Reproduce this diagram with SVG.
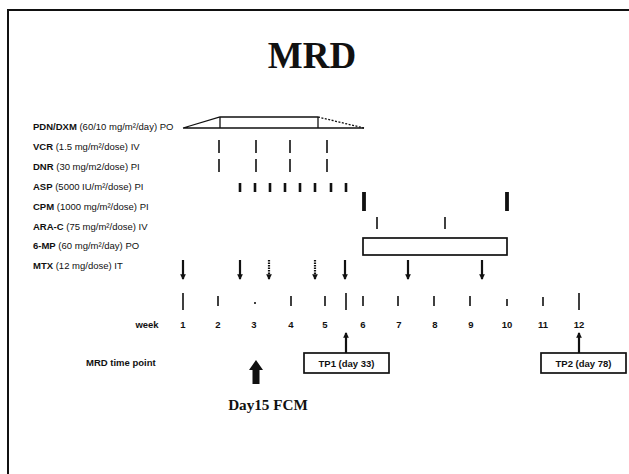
<svg xmlns="http://www.w3.org/2000/svg" width="629" height="474" viewBox="0 0 629 474">
<style>
.lab{font-family:"Liberation Sans",Arial,sans-serif;font-size:9.5px;fill:#111}
.b{font-weight:bold}
.num{font-family:"Liberation Sans",Arial,sans-serif;font-size:9.5px;font-weight:bold;fill:#111;text-anchor:middle}
.ser{font-family:"Liberation Serif","Times New Roman",serif;font-weight:bold;fill:#111}
.tk{stroke:#111;stroke-width:1.6;fill:none}
.tkb{stroke:#111;stroke-width:2.6;fill:none}
.ln{stroke:#111;stroke-width:1.3;fill:none}
.box{fill:#fff;stroke:#111;stroke-width:1.7}
.arr{stroke:#111;stroke-width:2.2;fill:none}
</style>
<defs>
<marker id="ah" viewBox="0 0 6 6" refX="5" refY="3" markerWidth="2.6" markerHeight="2.6" orient="auto" markerUnits="strokeWidth">
<path d="M0,0 L6,3 L0,6 Z" fill="#111"/>
</marker>
</defs>
<rect x="0" y="0" width="629" height="474" fill="#fff"/>
<g id="frame"><path d="M8,474 L8,10 L629,10" stroke="#111" stroke-width="2" fill="none"/></g>
<g id="title"><text class="ser" x="312" y="68" font-size="37" text-anchor="middle">MRD</text></g>

<g id="labels">
<text class="lab" x="33" y="130"><tspan class="b">PDN/DXM</tspan> (60/10 mg/m²/day) PO</text>
<text class="lab" x="33" y="150"><tspan class="b">VCR</tspan> (1.5 mg/m²/dose) IV</text>
<text class="lab" x="33" y="170"><tspan class="b">DNR</tspan> (30 mg/m2/dose) PI</text>
<text class="lab" x="33" y="190"><tspan class="b">ASP</tspan> (5000 IU/m²/dose) PI</text>
<text class="lab" x="33" y="210"><tspan class="b">CPM</tspan> (1000 mg/m²/dose) PI</text>
<text class="lab" x="33" y="230"><tspan class="b">ARA-C</tspan> (75 mg/m²/dose) IV</text>
<text class="lab" x="33" y="249"><tspan class="b">6-MP</tspan> (60 mg/m²/day) PO</text>
<text class="lab" x="33" y="269"><tspan class="b">MTX</tspan> (12 mg/dose) IT</text>
</g>

<g id="pdn">
<path class="ln" d="M183,128 L220,117 L318,117 M220,117 L220,128 M318,117 L318,128 M183,128 L364,128"/>
<path class="ln" d="M318,117 L364,128" stroke-dasharray="2,1.5"/>
</g>
<g id="vcr"><path class="tk" d="M219,140 V153 M256,140 V153 M290,140 V153 M327,140 V153"/></g>
<g id="dnr"><path class="tk" d="M219,159 V172 M256,159 V172 M290,159 V172 M327,159 V172"/></g>
<g id="asp"><path class="tkb" d="M240,183 V192 M255,183 V192 M270,183 V192 M285,183 V192 M300,183 V192 M315,183 V192 M331,183 V192 M346,183 V192"/></g>
<g id="cpm"><path stroke="#111" stroke-width="3.8" d="M364,192 V211 M507,192 V211"/></g>
<g id="arac"><path class="tk" d="M377,217 V229 M445,217 V229"/></g>
<g id="mp6"><rect class="box" x="363" y="238" width="144" height="17"/></g>
<g id="mtx">
<path class="arr" marker-end="url(#ah)" d="M183,260 V279"/>
<path class="arr" marker-end="url(#ah)" d="M240,260 V279"/>
<path class="arr" marker-end="url(#ah)" d="M269,260 V279" stroke-dasharray="1.5,1"/>
<path class="arr" marker-end="url(#ah)" d="M315,260 V279" stroke-dasharray="1.5,1"/>
<path class="arr" marker-end="url(#ah)" d="M345,260 V279"/>
<path class="arr" marker-end="url(#ah)" d="M408,260 V279"/>
<path class="arr" marker-end="url(#ah)" d="M482,260 V279"/>
</g>

<g id="ticks">
<path class="tk" d="M183,293 V310 M218,296 V306 M255,302 V304 M291,296 V306 M325,296 V306 M346,293 V310 M363,296 V306 M398,296 V306 M434,296 V306 M470,296 V306 M507,299 V306 M543,297 V306 M579,293 V310"/>
</g>
<g id="weeks">
<text class="num" x="147" y="328">week</text>
<text class="num" x="183" y="328">1</text>
<text class="num" x="218" y="328">2</text>
<text class="num" x="254" y="328">3</text>
<text class="num" x="291" y="328">4</text>
<text class="num" x="325" y="328">5</text>
<text class="num" x="363" y="328">6</text>
<text class="num" x="399" y="328">7</text>
<text class="num" x="435" y="328">8</text>
<text class="num" x="471" y="328">9</text>
<text class="num" x="507" y="328">10</text>
<text class="num" x="543" y="328">11</text>
<text class="num" x="579" y="328">12</text>
</g>

<g id="connectors">
<path class="arr" marker-end="url(#ah)" d="M346,353 V333"/>
<path class="arr" marker-end="url(#ah)" d="M579,353 V333"/>
</g>
<g id="mrd-time-point"><text class="lab b" x="86" y="366" font-size="7.6">MRD time point</text></g>
<g id="tp1"><rect class="box" x="304" y="353" width="85" height="20"/><text class="num" x="346.5" y="366.5" font-size="9.7">TP1 (day 33)</text></g>
<g id="tp2"><rect class="box" x="541" y="353" width="85" height="20"/><text class="num" x="583.5" y="366.5" font-size="9.7">TP2 (day 78)</text></g>
<g id="day15">
<path d="M256,360 L263,370 L259.5,370 L259.5,384 L252.5,384 L252.5,370 L249,370 Z" fill="#111"/>
<text class="ser" x="268" y="410" font-size="15.2" text-anchor="middle">Day15 FCM</text>
</g>
</svg>
